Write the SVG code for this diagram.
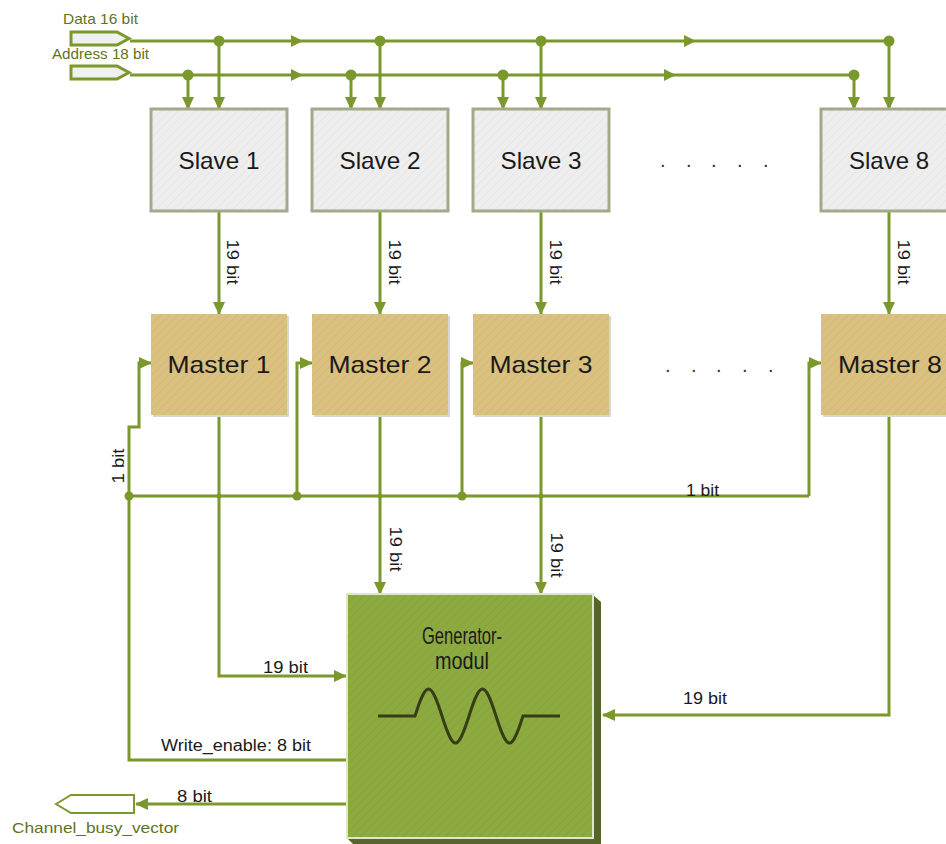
<svg xmlns="http://www.w3.org/2000/svg" width="946" height="844" viewBox="0 0 946 844">
<defs>
<marker id="ah" markerUnits="userSpaceOnUse" markerWidth="14" markerHeight="14" viewBox="0 0 14 14" refX="12" refY="7" orient="auto">
<path d="M0,1 L13,7 L0,13 Z" fill="#7b982c"/>
</marker>
<pattern id="hs" width="6" height="6" patternUnits="userSpaceOnUse" patternTransform="rotate(45)">
<rect width="6" height="6" fill="#eeeeee"/><line x1="0" y1="0" x2="0" y2="6" stroke="#e6e6e6" stroke-width="2"/>
</pattern>
<pattern id="hm" width="6" height="6" patternUnits="userSpaceOnUse" patternTransform="rotate(45)">
<rect width="6" height="6" fill="#dac180"/><line x1="0" y1="0" x2="0" y2="6" stroke="#d4b978" stroke-width="2"/>
</pattern>
<pattern id="hg" width="6" height="6" patternUnits="userSpaceOnUse" patternTransform="rotate(45)">
<rect width="6" height="6" fill="#8daa40"/><line x1="0" y1="0" x2="0" y2="6" stroke="#87a43b" stroke-width="2"/>
</pattern>
</defs>
<style>
.w{fill:none;stroke:#7b982c;stroke-width:3}
.a{marker-end:url(#ah)}
.d{fill:#7b982c}
.slave{fill:url(#hs);stroke:#a4a98a;stroke-width:3}
.master{fill:url(#hm)}
.sh{fill:#d6d6d6}
.big{font-family:"Liberation Sans",Arial,sans-serif;font-size:24px;fill:#1a1a1a;text-anchor:middle}
.lbl{font-family:"Liberation Sans",Arial,sans-serif;font-size:16px;fill:#1a1a1a}
.glbl{font-family:"Liberation Sans",Arial,sans-serif;font-size:15px;fill:#5f7320}
.dots{font-family:"Liberation Sans",Arial,sans-serif;font-size:20px;fill:#333}
</style>
<rect width="946" height="844" fill="#ffffff"/>

<g id="connectors">
<path class="w" d="M130,41 H889"/>
<path class="w" d="M130,75 H854"/>
<path class="d" d="M291,35 L303,41 L291,47 Z"/>
<path class="d" d="M684,35 L696,41 L684,47 Z"/>
<path class="d" d="M291,69 L303,75 L291,81 Z"/>
<path class="d" d="M664,69 L676,75 L664,81 Z"/>
<path class="w a" d="M219,41 V109"/>
<path class="w a" d="M380,41 V109"/>
<path class="w a" d="M541,41 V109"/>
<path class="w a" d="M889,41 V109"/>
<path class="w a" d="M188,75 V109"/>
<path class="w a" d="M351,75 V109"/>
<path class="w a" d="M503,75 V109"/>
<path class="w a" d="M854,75 V109"/>
<circle class="d" cx="219" cy="41" r="5.5"/>
<circle class="d" cx="380" cy="41" r="5.5"/>
<circle class="d" cx="541" cy="41" r="5.5"/>
<circle class="d" cx="889" cy="41" r="5.5"/>
<circle class="d" cx="188" cy="75" r="5.5"/>
<circle class="d" cx="351" cy="75" r="5.5"/>
<circle class="d" cx="503" cy="75" r="5.5"/>
<circle class="d" cx="854" cy="75" r="5.5"/>
<path class="w a" d="M219,211 V314"/>
<path class="w a" d="M380,211 V314"/>
<path class="w a" d="M541,211 V314"/>
<path class="w a" d="M889,211 V314"/>
<path class="w" d="M129,496 H809"/>
<path class="w a" d="M809,496 V363 H821"/>
<path class="w a" d="M129,496 V427 H139 V363 H151"/>
<path class="w a" d="M297,496 V363 H312"/>
<path class="w a" d="M462,496 V363 H473"/>
<path class="w" d="M129,496 V760 H346"/>
<circle class="d" cx="129" cy="496" r="4.5"/>
<circle class="d" cx="297" cy="496" r="4.5"/>
<circle class="d" cx="462" cy="496" r="4.5"/>
<circle class="d" cx="219" cy="496" r="2.5"/>
<circle class="d" cx="380" cy="496" r="2.5"/>
<circle class="d" cx="541" cy="496" r="2.5"/>
<path class="w a" d="M219,415 V676 H346"/>
<path class="w a" d="M380,415 V594"/>
<path class="w a" d="M541,415 V594"/>
<path class="w a" d="M889,415 V715 H603"/>
<path class="w a" d="M346,804 H136"/>
</g>

<g id="ports">
<polygon points="71,32 117,32 129,38.5 117,45 71,45" fill="#f0f0f0" stroke="#7b982c" stroke-width="3"/>
<polygon points="71,66 117,66 129,72.5 117,79 71,79" fill="#f0f0f0" stroke="#7b982c" stroke-width="3"/>
<polygon points="56,804 71,795 134,795 134,813 71,813" fill="#ffffff" stroke="#7b982c" stroke-width="2"/>
<text class="glbl" x="63" y="24" textLength="75" lengthAdjust="spacingAndGlyphs">Data 16 bit</text>
<text class="glbl" x="52" y="59" textLength="97" lengthAdjust="spacingAndGlyphs">Address 18 bit</text>
<text class="glbl" x="12" y="833" font-size="17" textLength="167" lengthAdjust="spacingAndGlyphs">Channel_busy_vector</text>
</g>

<g id="slave1"><rect class="slave" x="151" y="109" width="136" height="102"/><text class="big" x="219" y="169" textLength="81" lengthAdjust="spacingAndGlyphs">Slave 1</text></g>
<g id="slave2"><rect class="slave" x="312" y="109" width="136" height="102"/><text class="big" x="380" y="169" textLength="81" lengthAdjust="spacingAndGlyphs">Slave 2</text></g>
<g id="slave3"><rect class="slave" x="473" y="109" width="136" height="102"/><text class="big" x="541" y="169" textLength="81" lengthAdjust="spacingAndGlyphs">Slave 3</text></g>
<g id="slave8"><rect class="slave" x="821" y="109" width="140" height="102"/><text class="big" x="889" y="169" textLength="80" lengthAdjust="spacingAndGlyphs">Slave 8</text></g>
<g id="dots-slaves"><text class="dots" x="660 686 711 737 763" y="167">.....</text></g>

<g id="master1"><rect class="sh" x="153" y="316" width="136" height="101"/><rect class="master" x="151" y="314" width="136" height="101"/><text class="big" x="219" y="373" textLength="103" lengthAdjust="spacingAndGlyphs">Master 1</text></g>
<g id="master2"><rect class="sh" x="314" y="316" width="136" height="101"/><rect class="master" x="312" y="314" width="136" height="101"/><text class="big" x="380" y="373" textLength="103" lengthAdjust="spacingAndGlyphs">Master 2</text></g>
<g id="master3"><rect class="sh" x="475" y="316" width="136" height="101"/><rect class="master" x="473" y="314" width="136" height="101"/><text class="big" x="541" y="373" textLength="103" lengthAdjust="spacingAndGlyphs">Master 3</text></g>
<g id="master8"><rect class="sh" x="823" y="316" width="136" height="101"/><rect class="master" x="821" y="314" width="140" height="101"/><text class="big" x="890" y="373" textLength="104" lengthAdjust="spacingAndGlyphs">Master 8</text></g>
<g id="dots-masters"><text class="dots" x="665 691 716 742 768" y="372">.....</text></g>

<g id="generator">
<polygon points="593,595 601,602 601,844 593,844" fill="#56662a"/>
<polygon points="347,838 593,838 601,844 353,844" fill="#56662a"/>
<rect x="347" y="594" width="246" height="244" fill="url(#hg)" stroke="#dfe8c6" stroke-width="2"/>
<text class="big" x="462" y="644" font-size="17" fill="#2a2e15" textLength="80" lengthAdjust="spacingAndGlyphs">Generator-</text>
<text class="big" x="462" y="669" font-size="17" fill="#2a2e15" textLength="54" lengthAdjust="spacingAndGlyphs">modul</text>
<path d="M378,716 H415 C426.5,680 430.5,680 442,716 C453.5,752 457.5,752 469,716 C480.5,680 484.5,680 496,716 C507.5,752 511.5,752 523,716 H560" fill="none" stroke="#363d17" stroke-width="3"/>
</g>

<g id="labels">
<text class="lbl" transform="translate(227,262) rotate(90)" text-anchor="middle" textLength="45" lengthAdjust="spacingAndGlyphs">19 bit</text>
<text class="lbl" transform="translate(389,262) rotate(90)" text-anchor="middle" textLength="45" lengthAdjust="spacingAndGlyphs">19 bit</text>
<text class="lbl" transform="translate(550,262) rotate(90)" text-anchor="middle" textLength="45" lengthAdjust="spacingAndGlyphs">19 bit</text>
<text class="lbl" transform="translate(898,262) rotate(90)" text-anchor="middle" textLength="45" lengthAdjust="spacingAndGlyphs">19 bit</text>
<text class="lbl" transform="translate(390,549) rotate(90)" text-anchor="middle" textLength="45" lengthAdjust="spacingAndGlyphs">19 bit</text>
<text class="lbl" transform="translate(551,555) rotate(90)" text-anchor="middle" textLength="45" lengthAdjust="spacingAndGlyphs">19 bit</text>
<text class="lbl" transform="translate(124,466) rotate(-90)" text-anchor="middle" textLength="35" lengthAdjust="spacingAndGlyphs">1 bit</text>
<text class="lbl" x="686" y="496" textLength="33" lengthAdjust="spacingAndGlyphs">1 bit</text>
<text class="lbl" x="263" y="673" textLength="45" lengthAdjust="spacingAndGlyphs">19 bit</text>
<text class="lbl" x="683" y="704" textLength="44" lengthAdjust="spacingAndGlyphs">19 bit</text>
<text class="lbl" x="161" y="751" textLength="150" lengthAdjust="spacingAndGlyphs">Write_enable: 8 bit</text>
<text class="lbl" x="177" y="802" textLength="35" lengthAdjust="spacingAndGlyphs">8 bit</text>
</g>
</svg>
